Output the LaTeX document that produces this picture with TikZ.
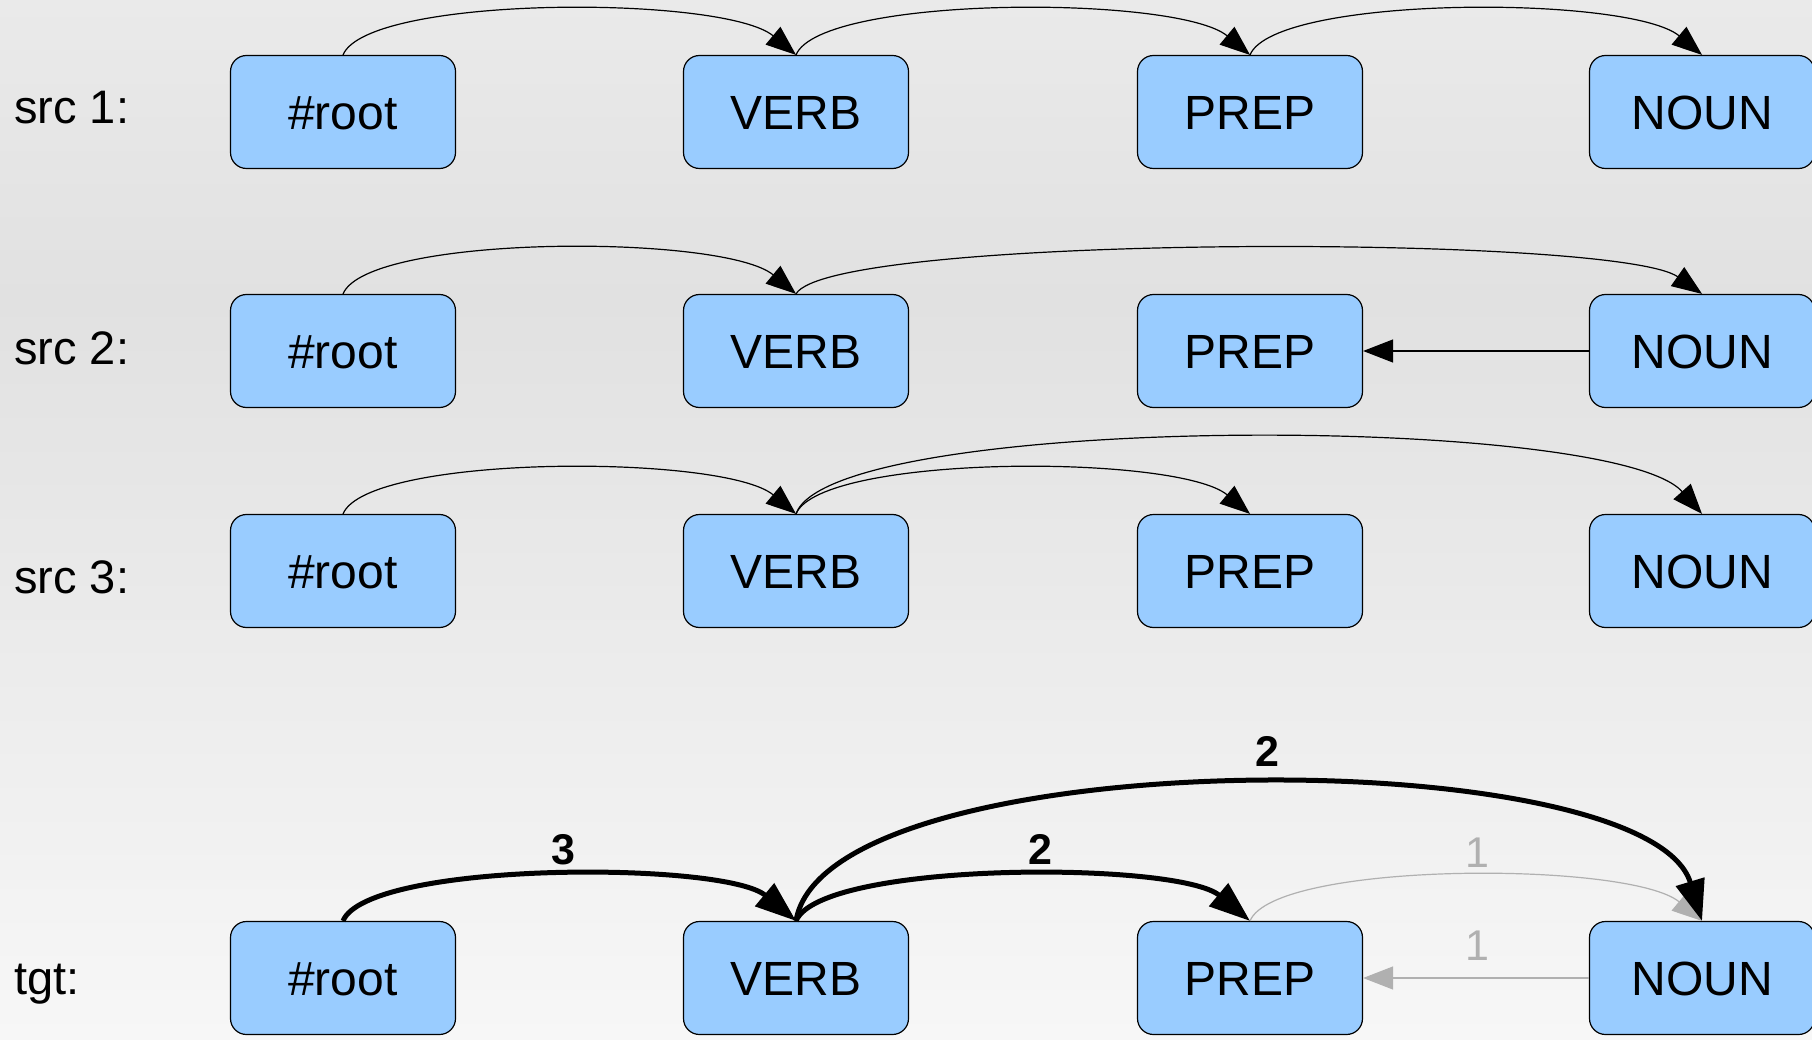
\documentclass[tikz,border=0pt]{standalone}
\usepackage{fontspec}
\setmainfont{Liberation Sans}
\usetikzlibrary{arrows.meta}
\definecolor{boxfill}{HTML}{99CCFF}
\definecolor{weak}{HTML}{B0B0B0}
\definecolor{bgtop}{HTML}{EAEAEA}
\definecolor{bgmid}{HTML}{E1E1E1}
\definecolor{bgbot}{HTML}{F7F7F7}
\begin{document}
\begin{tikzpicture}[x=1pt,y=-1pt,
  tok/.style={draw=black, line width=1.2pt, fill=boxfill, rounded corners=16pt,
    minimum width=225pt, minimum height=113pt, inner sep=0pt,
    font=\fontsize{48pt}{57pt}\selectfont, text height=34.4pt, text depth=0pt},
  rowlab/.style={anchor=base west, inner sep=0pt, font=\fontsize{47pt}{56pt}\selectfont},
  dep/.style={line width=1.2pt, -{Triangle[length=30pt,width=23pt]}},
  strong/.style={line width=5pt, -{Triangle[length=41pt,width=29pt]}},
  weakdep/.style={dep, draw=weak},
  cnt/.style={inner sep=0pt, font=\fontsize{43pt}{51pt}\selectfont\bfseries,
    text height=30.8pt, text depth=0pt},
  weakcnt/.style={inner sep=0pt, font=\fontsize{43pt}{51pt}\selectfont,
    text height=30.8pt, text depth=0pt, text=weak},
]
\useasboundingbox (0,0) rectangle (1812,1040);
\clip (0,0) rectangle (1812,1040);

% background
\fill[top color=bgtop, bottom color=bgmid] (0,0) rectangle (1812,300);
\fill[top color=bgmid, bottom color=bgbot] (0,299.5) rectangle (1812,1040);

% row captions
\node[rowlab] (l1) at (14,124) {src 1:};
\node[rowlab] (l2) at (14,365) {src 2:};
\node[rowlab] (l3) at (14,593) {src 3:};
\node[rowlab] (l4) at (14,994) {tgt:};

% tokens
\foreach \r/\y in {1/112, 2/351, 3/571, 4/978} {
  \node[tok] (r\r) at (343,\y) {\#root};
  \node[tok] (v\r) at (796,\y) {VERB};
  \node[tok] (p\r) at (1250,\y) {PREP};
  \node[tok] (n\r) at (1702,\y) {NOUN};
}

% src 1
\draw[dep] (r1.north) .. controls +(25,-60) and +(-72,-60) .. (v1.north);
\draw[dep] (v1.north) .. controls +(25,-60) and +(-72,-60) .. (p1.north);
\draw[dep] (p1.north) .. controls +(25,-60) and +(-72,-60) .. (n1.north);

% src 2
\draw[dep] (r2.north) .. controls +(25,-60) and +(-72,-60) .. (v2.north);
\draw[dep] (v2.north) .. controls +(35,-60) and +(-85,-60) .. (n2.north);
\draw[dep] (n2.west) -- (p2.east);

% src 3
\draw[dep] (r3.north) .. controls +(25,-60) and +(-72,-60) .. (v3.north);
\draw[dep] (v3.north) .. controls +(25,-60) and +(-72,-60) .. (p3.north);
\draw[dep] (v3.north) .. controls +(35,-101) and +(-90,-101) .. (n3.north);

% tgt
\draw[weakdep] (p4.north) .. controls +(25,-60) and +(-72,-60) .. (n4.north);
\draw[weakdep] (n4.west) -- (p4.east);
\draw[strong] (r4.north) .. controls +(25,-60) and +(-72,-60) .. (v4.north);
\draw[strong] (v4.north) .. controls +(25,-60) and +(-72,-60) .. (p4.north);
\draw[strong] (v4.north) .. controls +(30,-181) and +(-55,-181) .. (n4.north);

% counts
\node[cnt] (c1) at (563,849) {3};
\node[cnt] (c2) at (1040,849) {2};
\node[cnt] (c3) at (1267,751) {2};
\node[weakcnt] (c4) at (1477,852) {1};
\node[weakcnt] (c5) at (1477,945) {1};
\end{tikzpicture}
\end{document}
